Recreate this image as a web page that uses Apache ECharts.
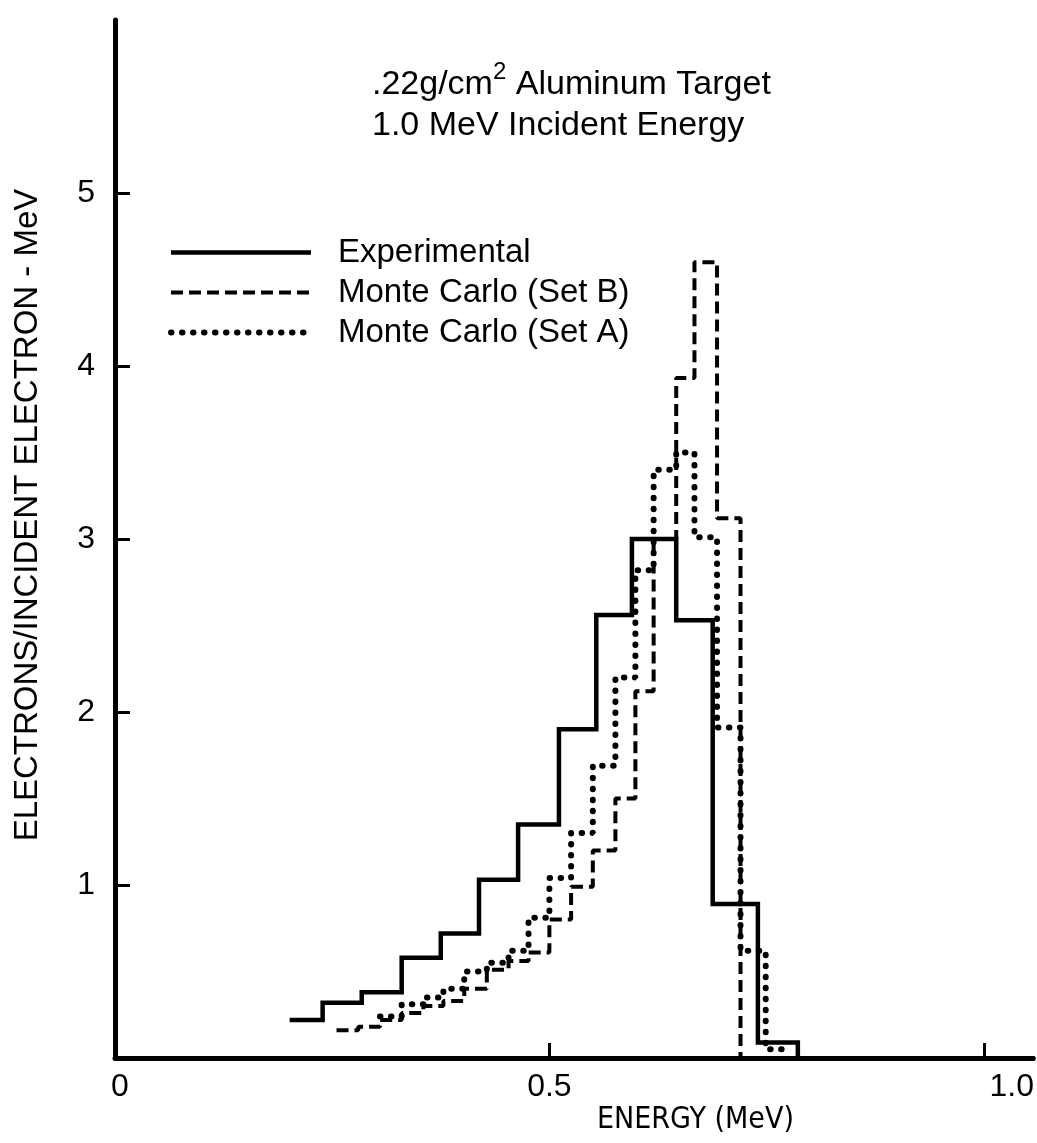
<!DOCTYPE html>
<html><head><meta charset="utf-8">
<script src="https://cdn.jsdelivr.net/npm/echarts@6/dist/echarts.min.js"></script>
<style>html,body{margin:0;padding:0;background:#fff}#c{width:1037px;height:1143px}</style>
</head><body><div id="c"></div>
<script>
// ---- data (energy in MeV, electrons / incident electron - MeV) ----
const expEdges   = [0.201,0.239,0.284,0.330,0.375,0.419,0.464,0.511,0.554,0.595,0.646,0.688,0.740,0.786];
const expValues  = [0.22,0.32,0.38,0.58,0.72,1.03,1.35,1.90,2.56,3.00,2.53,0.89,0.09];
const mcEdges    = [0.255,0.280,0.305,0.330,0.355,0.378,0.402,0.428,0.453,0.476,0.500,0.525,0.550,0.576,0.599,0.620,0.646,0.667,0.693,0.720,0.749,0.768];
const setBValues = [0.16,0.18,0.22,0.26,0.30,0.33,0.40,0.51,0.56,0.61,0.80,0.99,1.20,1.50,2.12,3.00,3.93,4.60,3.12,null,null];
const setAValues = [null,null,0.24,0.31,0.35,0.40,0.50,0.55,0.62,0.81,1.04,1.30,1.69,2.20,2.82,3.40,3.50,3.01,1.91,0.62,0.05];
const xTickLabels = [0, 0.5, 1.0];
const xTickMarks  = [0.5, 1.0];
const yTicks      = [1, 2, 3, 4, 5];
const seriesNames = ['Experimental', 'Monte Carlo (Set B)', 'Monte Carlo (Set A)'];

function steps(edges, vals) {
  const pts = [];
  let last = null;
  for (let i = 0; i < vals.length; i++) {
    if (vals[i] == null) continue;
    pts.push([edges[i], vals[i]]);
    pts.push([edges[i + 1], vals[i]]);
    last = edges[i + 1];
  }
  pts.push([last, 0]);
  return pts;
}

const FONT = "'Liberation Sans', Arial, sans-serif";
const NARROW = "'Liberation Sans Narrow', 'DejaVu Sans Condensed', 'Liberation Sans', sans-serif";
const chart = echarts.init(document.getElementById('c'), null, {renderer: 'canvas'});
const XMAX = 1.057, YMAX = 6;

const solidStyle  = {color: '#000', width: 4.5, join: 'miter'};
const dashedStyle = {color: '#000', width: 4, type: [12, 6]};
const dottedStyle = {color: '#000', width: 6, type: [0.5, 10.5], cap: 'round'};

chart.setOption({
  animation: false,
  backgroundColor: '#fff',
  grid: {left: 115, right: 0, top: 20, bottom: 85, containLabel: false},
  legend: {
    orient: 'vertical', left: 163, top: 231, itemWidth: 140, itemHeight: 20, itemGap: 7,
    data: [
      {name: seriesNames[0], itemStyle: {opacity: 0}, lineStyle: solidStyle},
      {name: seriesNames[1], itemStyle: {opacity: 0}, lineStyle: dashedStyle},
      {name: seriesNames[2], itemStyle: {opacity: 0}, lineStyle: dottedStyle}
    ],
    textStyle: {fontSize: 33, fontFamily: FONT, color: '#000', padding: [0, 0, 0, 22]}
  },
  xAxis: [{
    type: 'value', min: 0, max: XMAX, interval: 0.5,
    axisLine: {show: true, onZero: false, lineStyle: {color: '#000', width: 5}},
    axisTick: {show: true, inside: true, length: 15, customValues: xTickMarks, lineStyle: {color: '#000', width: 3}},
    axisLabel: {
      customValues: xTickLabels, margin: 13, color: '#000', fontSize: 32, fontFamily: FONT,
      formatter: v => v === 0 ? '{z|0}' : (v === 1 ? '{r|1.0}' : v.toFixed(1)),
      rich: {r: {fontSize: 32, fontFamily: FONT, color: '#000', padding: [0, 0, 0, 56]},
             z: {fontSize: 32, fontFamily: FONT, color: '#000', padding: [0, 0, 0, 10]}}
    },
    splitLine: {show: false}
  }, {
    type: 'value', min: 0, max: XMAX, position: 'top',
    axisLine: {show: true, lineStyle: {color: '#000', width: 4}},
    axisTick: {show: false}, axisLabel: {show: false}, splitLine: {show: false}
  }],
  yAxis: {
    type: 'value', min: 0, max: YMAX, interval: 1,
    axisLine: {show: true, onZero: false, lineStyle: {color: '#000', width: 5}},
    axisTick: {show: true, inside: true, length: 15, customValues: yTicks, lineStyle: {color: '#000', width: 3}},
    axisLabel: {customValues: yTicks, margin: 20, color: '#000', fontSize: 32, fontFamily: FONT},
    splitLine: {show: false}
  },
  graphic: [
    {type: 'text', left: 372, top: 60, style: {
      text: '{a|.22g/cm}{s|2}{a| Aluminum Target}',
      rich: {a: {fontSize: 34, fontFamily: FONT, fill: '#000', verticalAlign: 'bottom', lineHeight: 42},
             s: {fontSize: 24, fontFamily: FONT, fill: '#000', verticalAlign: 'top', lineHeight: 42}}
    }},
    {type: 'text', left: 372, top: 109, style: {text: '1.0 MeV Incident Energy', fontSize: 34, fontFamily: FONT, fill: '#000'}},
    {type: 'text', left: 597, top: 1105, style: {text: 'ENERGY (MeV)', fontSize: 30, fontFamily: NARROW, fill: '#000'}},
    {type: 'text', x: 28, y: 515, rotation: Math.PI / 2, style: {text: 'ELECTRONS/INCIDENT ELECTRON - MeV', fontSize: 33, fontFamily: FONT, fill: '#000', align: 'center', verticalAlign: 'middle'}}
  ],
  series: [
    {name: seriesNames[0], type: 'line', xAxisIndex: 0, data: steps(expEdges, expValues), showSymbol: false, symbol: 'none',
     lineStyle: solidStyle, itemStyle: {color: '#000'}, z: 3},
    {name: seriesNames[1], type: 'line', xAxisIndex: 0, data: steps(mcEdges, setBValues), showSymbol: false, symbol: 'none',
     lineStyle: dashedStyle, itemStyle: {color: '#000'}, z: 2},
    {name: seriesNames[2], type: 'line', xAxisIndex: 0, data: steps(mcEdges, setAValues), showSymbol: false, symbol: 'none',
     lineStyle: dottedStyle, itemStyle: {color: '#000'}, z: 2}
  ]
});
</script></body></html>
